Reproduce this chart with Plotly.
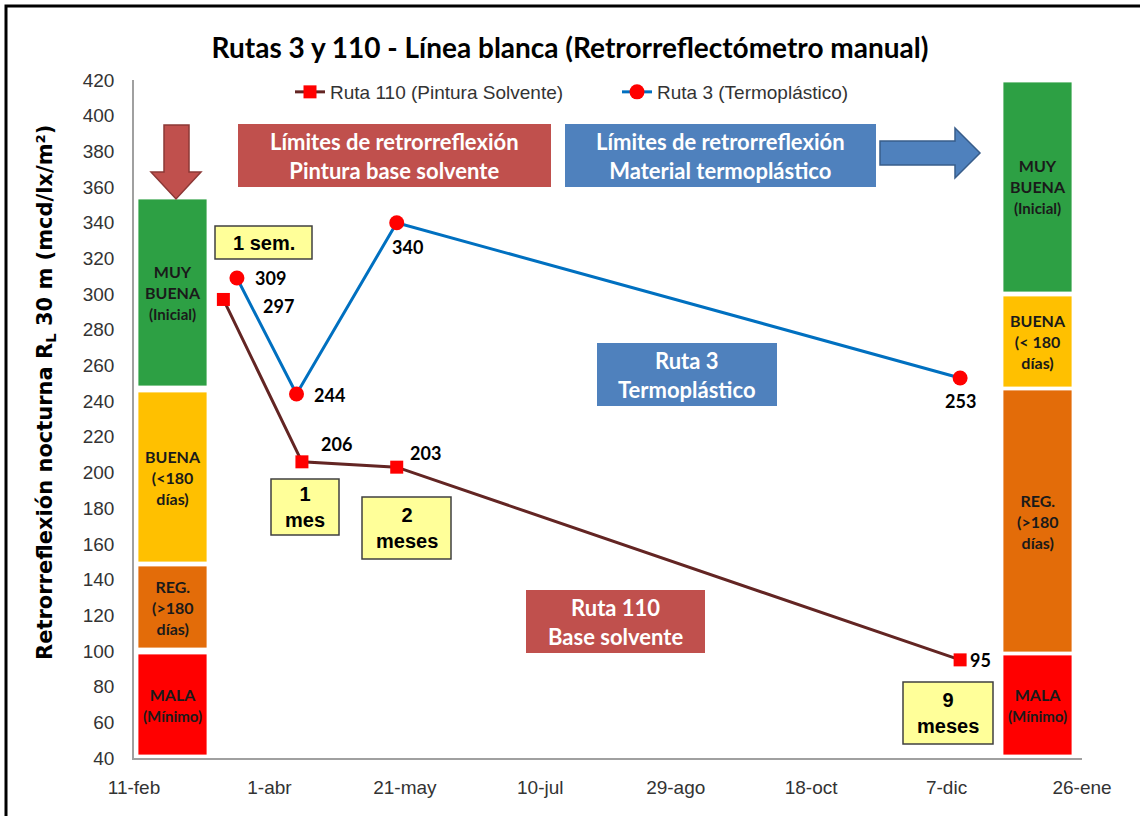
import plotly.graph_objects as go

# Datos de las mediciones (retrorreflexión RL, mcd/lx/m2):
fechas_110  = ['2012-03-15', '2012-04-13', '2012-05-18', '2012-12-12']
valores_110 = [297, 206, 203, 95]

fechas_3  = ['2012-03-20', '2012-04-11', '2012-05-18', '2012-12-12']
valores_3 = [309, 244, 340, 253]

# Etiquetas del eje X (cada 50 días):
tick_fechas = ['2012-02-11', '2012-04-01', '2012-05-21', '2012-07-10',
               '2012-08-29', '2012-10-18', '2012-12-07', '2013-01-26']
tick_textos = ['11-feb', '1-abr', '21-may', '10-jul',
               '29-ago', '18-oct', '7-dic', '26-ene']

# Desplazamiento de las etiquetas de valor (px):
desp_110 = [(55, -7), (35, 18), (29, 14), (20, 0)]
desp_3   = [(34, 0), (33, -1), (11, -24), (0, -23)]

# Área de trazado en píxeles:
L, T, W, H = 134, 80, 948, 678


def px(x):
    return (x - L) / W


def py(y):
    return (T + H - y) / H


def texto_en(x, y, texto, fuente, **kw):
    '''Anotación centrada en una posición de píxel'''
    return dict(
        x=px(x), y=py(y), xref='paper', yref='paper',
        xanchor='center', yanchor='middle',
        text=texto, showarrow=False, font=fuente, **kw
    )


fig = go.Figure()

fig.add_trace(go.Scatter(
    x=fechas_110, y=valores_110,
    mode='lines+markers',
    name='Ruta 110 (Pintura Solvente)',
    line=dict(color='#632523', width=3),
    marker=dict(symbol='square', size=13, color='#FF0000')
))

fig.add_trace(go.Scatter(
    x=fechas_3, y=valores_3,
    mode='lines+markers',
    name='Ruta 3 (Termoplástico)',
    line=dict(color='#0070C0', width=3),
    marker=dict(symbol='circle', size=15, color='#FF0000')
))

annotations = []

# Etiquetas de valor:
for xs, ys, desp in [(fechas_110, valores_110, desp_110), (fechas_3, valores_3, desp_3)]:
    for x, y, (dx, dy) in zip(xs, ys, desp):
        annotations.append(dict(
            x=x, y=y, xref='x', yref='y', text=f'<b>{y}</b>',
            xanchor='center', yanchor='middle',
            showarrow=False, xshift=dx, yshift=dy,
            font=dict(family='Lato', size=18, color='black')
        ))

shapes = []

# Bandas de calificación (izquierda y derecha):
inicial = '<span style="font-size:15px">(Inicial)</span>'
minimo = '<span style="font-size:15px">(Mínimo)</span>'
bandas = [
    (138, 199, 207, 386, '#2DA044', f'MUY<br>BUENA<br>{inicial}'),
    (138, 392, 207, 562, '#FFC000', 'BUENA<br>(&lt;180<br>días)'),
    (138, 566, 207, 648, '#E36C09', 'REG.<br>(&gt;180<br>días)'),
    (138, 654, 207, 755, '#FF0000', f'MALA<br>{minimo}'),
    (1003, 82, 1072, 292, '#2DA044', f'MUY<br>BUENA<br>{inicial}'),
    (1003, 296, 1072, 387, '#FFC000', 'BUENA<br>(&lt; 180<br>días)'),
    (1003, 390, 1072, 652, '#E36C09', 'REG.<br>(&gt;180<br>días)'),
    (1003, 655, 1072, 755, '#FF0000', f'MALA<br>{minimo}'),
]
for x0, y0, x1, y1, color, texto in bandas:
    shapes.append(dict(
        type='rect', xref='paper', yref='paper',
        x0=px(x0), x1=px(x1), y0=py(y1), y1=py(y0),
        fillcolor=color, line=dict(color='rgba(255,255,255,0.8)', width=1),
        layer='below'
    ))
    annotations.append(texto_en(
        (x0 + x1) / 2, (y0 + y1) / 2, f'<b>{texto}</b>',
        dict(family='Lato', size=16, color='#1a1a1a')
    ))

# Cuadros de texto rojo/azul:
cuadros = [
    (238, 124, 551, 187, '#C0504D', 'Límites de retrorreflexión<br>Pintura base solvente'),
    (565, 124, 876, 187, '#4F81BD', 'Límites de retrorreflexión<br>Material termoplástico'),
    (597, 343, 777, 406, '#4F81BD', 'Ruta 3<br>Termoplástico'),
    (526, 590, 705, 653, '#C0504D', 'Ruta 110<br>Base solvente'),
]
for x0, y0, x1, y1, color, texto in cuadros:
    shapes.append(dict(
        type='rect', xref='paper', yref='paper',
        x0=px(x0), x1=px(x1), y0=py(y1), y1=py(y0),
        fillcolor=color, line=dict(width=0)
    ))
    annotations.append(texto_en(
        (x0 + x1) / 2, (y0 + y1) / 2, f'<b>{texto}</b>',
        dict(family='Lato', size=22, color='white')
    ))

# Cuadros amarillos de tiempo transcurrido:
notas = [
    (215, 226, 312, 259, '1 sem.'),
    (271, 479, 339, 535, '1<br>mes'),
    (362, 497, 451, 559, '2<br>meses'),
    (903, 682, 993, 744, '9<br>meses'),
]
for x0, y0, x1, y1, texto in notas:
    shapes.append(dict(
        type='rect', xref='paper', yref='paper',
        x0=px(x0), x1=px(x1), y0=py(y1), y1=py(y0),
        fillcolor='#FFFF99', line=dict(color='#404040', width=1.5)
    ))
    annotations.append(texto_en(
        (x0 + x1) / 2, (y0 + y1) / 2, f'<b>{texto}</b>',
        dict(family='Liberation Sans', size=20, color='black')
    ))


# Flechas:
def camino(puntos):
    return 'M ' + ' L '.join(f'{px(x)},{py(y)}' for x, y in puntos) + ' Z'


shapes.append(dict(
    type='path', xref='paper', yref='paper',
    path=camino([(164, 125), (189, 125), (189, 172), (201, 172), (176, 199),
                 (151, 172), (164, 172)]),
    fillcolor='#C0504D', line=dict(color='#8C3836', width=1.5)
))
shapes.append(dict(
    type='path', xref='paper', yref='paper',
    path=camino([(880, 141), (955, 141), (955, 128), (980, 153), (955, 178),
                 (955, 165), (880, 165)]),
    fillcolor='#4F81BD', line=dict(color='#385D8A', width=1.5)
))

# Marco exterior:
shapes.append(dict(
    type='rect', xref='paper', yref='paper',
    x0=px(6), x1=px(1200), y0=py(860), y1=py(6),
    line=dict(color='black', width=3), fillcolor='rgba(0,0,0,0)'
))

# Título del eje Y:
annotations.append(texto_en(
    46, 393, '<b>Retrorreflexión nocturna R<sub>L</sub> 30 m (mcd/lx/m²)</b>',
    dict(family='DejaVu Sans', size=21, color='black'), textangle=-90
))

fuente_ejes = dict(family='Liberation Sans', size=19, color='#333333')

fig.update_layout(
    width=1140, height=816,
    margin=dict(l=L, r=1140 - L - W, t=T, b=816 - T - H),
    plot_bgcolor='white', paper_bgcolor='white',
    title=dict(
        text='<b>Rutas 3 y 110 - Línea blanca (Retrorreflectómetro manual)</b>',
        x=0.5, xref='container', xanchor='center',
        y=1 - 48 / 816, yanchor='middle',
        font=dict(family='Lato', size=28, color='black')
    ),
    xaxis=dict(
        type='date', range=[tick_fechas[0], tick_fechas[-1]],
        tickvals=tick_fechas, ticktext=tick_textos,
        showgrid=False, zeroline=False, ticks='',
        showline=True, linecolor='#A0A0A0', linewidth=1.5,
        tickfont=fuente_ejes, ticklabelstandoff=11
    ),
    yaxis=dict(
        range=[40, 420], tick0=40, dtick=20,
        showgrid=False, zeroline=False, ticks='',
        showline=True, linecolor='#A0A0A0', linewidth=1.5,
        tickfont=fuente_ejes, ticklabelstandoff=14
    ),
    legend=dict(
        x=px(290), y=py(92), xanchor='left', yanchor='middle',
        orientation='h', font=fuente_ejes, bgcolor='rgba(0,0,0,0)',
        entrywidth=282, entrywidthmode='pixels'
    ),
    shapes=shapes,
    annotations=annotations
)

fig.write_html(
    'out.html',
    config={'displayModeBar': False},
    post_script="document.body.style.margin = '0px';"
)
